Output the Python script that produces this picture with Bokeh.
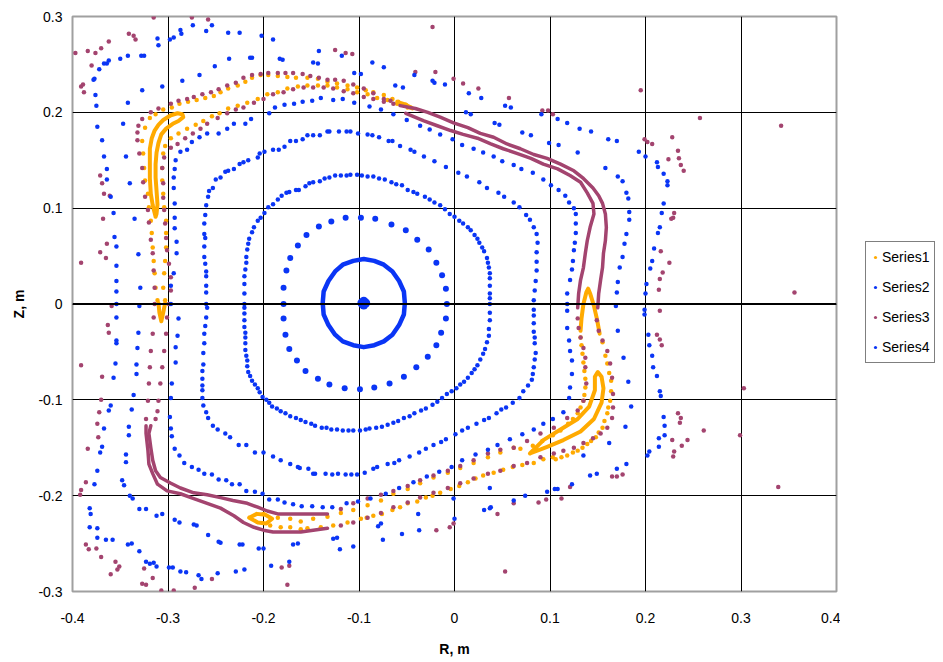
from bokeh.plotting import figure
from bokeh.layouts import row
from bokeh.models import Range1d, Legend, LegendItem, Span, FixedTicker
from bokeh.embed import file_html
from bokeh.resources import INLINE

ORANGE = "#FFAA00"
BLUE = "#0A35F5"
PURPLE = "#A3446F"

x_ticks = [-0.4, -0.3, -0.2, -0.1, 0, 0.1, 0.2, 0.3, 0.4]
y_ticks = [-0.3, -0.2, -0.1, 0, 0.1, 0.2, 0.3]
x_tick_labels = ["-0.4", "-0.3", "-0.2", "-0.1", "0", "0.1", "0.2", "0.3", "0.4"]
y_tick_labels = ["-0.3", "-0.2", "-0.1", "0", "0.1", "0.2", "0.3"]
series_names = ["Series1", "Series2", "Series3", "Series4"]

# ---------------- Series2 (inner blue surfaces) ----------------
s2_center = [(-0.097, 0.001), (-0.095, 0.003), (-0.095, -0.001), (-0.093, 0.001), (-0.096, 0.000)]
s2_ring = [(-0.052, 0.001), (-0.053, 0.013), (-0.058, 0.024), (-0.065, 0.034), (-0.074, 0.041), (-0.084, 0.045),
           (-0.095, 0.047), (-0.106, 0.045), (-0.117, 0.041), (-0.125, 0.034), (-0.132, 0.024), (-0.137, 0.013),
           (-0.138, 0.001), (-0.137, -0.011), (-0.132, -0.022), (-0.125, -0.032), (-0.117, -0.039), (-0.106, -0.043),
           (-0.095, -0.045), (-0.084, -0.043), (-0.074, -0.039), (-0.065, -0.032), (-0.058, -0.022), (-0.053, -0.011),
           (-0.052, 0.001)]
s2_curve2 = [(-0.179, 0.000), (-0.179, -0.015), (-0.177, -0.032), (-0.173, -0.047), (-0.165, -0.059), (-0.156, -0.070),
             (-0.143, -0.078), (-0.131, -0.084), (-0.115, -0.088), (-0.099, -0.089), (-0.084, -0.087), (-0.068, -0.083),
             (-0.053, -0.076), (-0.040, -0.066), (-0.028, -0.055), (-0.019, -0.043), (-0.014, -0.030), (-0.009, -0.015),
             (-0.008, 0.000), (-0.009, 0.016), (-0.013, 0.030), (-0.019, 0.043), (-0.027, 0.057), (-0.039, 0.067),
             (-0.051, 0.077), (-0.066, 0.083), (-0.083, 0.089), (-0.098, 0.090), (-0.114, 0.090), (-0.129, 0.086),
             (-0.142, 0.081), (-0.155, 0.072), (-0.164, 0.061), (-0.172, 0.048), (-0.176, 0.035), (-0.179, 0.017)]
s2_curve3 = [(-0.220, 0.000), (-0.220, 0.011), (-0.220, 0.021), (-0.220, 0.029), (-0.219, 0.036), (-0.218, 0.043),
             (-0.218, 0.049), (-0.217, 0.057), (-0.216, 0.063), (-0.215, 0.068), (-0.212, 0.075), (-0.210, 0.080),
             (-0.206, 0.087), (-0.203, 0.090), (-0.199, 0.095), (-0.195, 0.101), (-0.190, 0.104), (-0.185, 0.109),
             (-0.181, 0.113), (-0.176, 0.116), (-0.173, 0.117), (-0.166, 0.119), (-0.163, 0.119), (-0.156, 0.123),
             (-0.152, 0.126), (-0.148, 0.127), (-0.141, 0.128), (-0.136, 0.131), (-0.131, 0.132), (-0.125, 0.134),
             (-0.119, 0.134), (-0.113, 0.134), (-0.109, 0.135), (-0.102, 0.135), (-0.097, 0.134), (-0.091, 0.133),
             (-0.085, 0.133), (-0.079, 0.131), (-0.073, 0.130), (-0.066, 0.127), (-0.061, 0.125), (-0.055, 0.124),
             (-0.049, 0.119), (-0.043, 0.117), (-0.039, 0.115), (-0.031, 0.112), (-0.026, 0.109), (-0.021, 0.106),
             (-0.015, 0.103), (-0.010, 0.099), (-0.005, 0.094), (0.000, 0.091), (0.005, 0.087), (0.009, 0.084),
             (0.014, 0.080), (0.017, 0.077), (0.021, 0.072), (0.024, 0.068), (0.026, 0.064), (0.029, 0.059),
             (0.031, 0.055), (0.034, 0.048), (0.035, 0.043), (0.036, 0.038), (0.037, 0.032), (0.037, 0.027),
             (0.037, 0.019), (0.037, 0.011), (0.037, 0.006), (0.037, 0.000), (0.037, -0.009), (0.037, -0.017),
             (0.036, -0.026), (0.036, -0.033), (0.034, -0.040), (0.032, -0.047), (0.030, -0.052), (0.027, -0.058),
             (0.024, -0.064), (0.021, -0.068), (0.018, -0.072), (0.014, -0.077), (0.010, -0.081), (0.006, -0.084),
             (0.002, -0.088), (-0.003, -0.091), (-0.008, -0.094), (-0.013, -0.098), (-0.018, -0.102), (-0.023, -0.105),
             (-0.030, -0.109), (-0.035, -0.111), (-0.042, -0.114), (-0.047, -0.117), (-0.053, -0.119), (-0.059, -0.122),
             (-0.064, -0.124), (-0.070, -0.126), (-0.076, -0.128), (-0.082, -0.129), (-0.089, -0.130), (-0.093, -0.131),
             (-0.099, -0.132), (-0.106, -0.132), (-0.111, -0.132), (-0.117, -0.132), (-0.123, -0.131), (-0.129, -0.131),
             (-0.134, -0.129), (-0.139, -0.129), (-0.146, -0.127), (-0.150, -0.125), (-0.156, -0.123), (-0.161, -0.121),
             (-0.166, -0.119), (-0.172, -0.117), (-0.177, -0.114), (-0.182, -0.112), (-0.186, -0.109), (-0.191, -0.107),
             (-0.194, -0.103), (-0.197, -0.100), (-0.201, -0.097), (-0.204, -0.092), (-0.206, -0.088), (-0.209, -0.084),
             (-0.212, -0.080), (-0.214, -0.075), (-0.216, -0.071), (-0.217, -0.065), (-0.217, -0.059), (-0.218, -0.054),
             (-0.219, -0.048), (-0.219, -0.041), (-0.219, -0.035), (-0.219, -0.030), (-0.220, -0.024), (-0.220, -0.017),
             (-0.220, -0.010), (-0.220, -0.004)]
s2_curve4 = [(-0.260, 0.000), (-0.260, 0.012), (-0.260, 0.019), (-0.260, 0.029), (-0.260, 0.034), (-0.261, 0.042),
             (-0.262, 0.049), (-0.262, 0.060), (-0.261, 0.069), (-0.262, 0.073), (-0.262, 0.084), (-0.261, 0.093),
             (-0.260, 0.103), (-0.258, 0.112), (-0.257, 0.118), (-0.253, 0.121), (-0.250, 0.130), (-0.245, 0.132),
             (-0.240, 0.138), (-0.237, 0.139), (-0.231, 0.141), (-0.225, 0.146), (-0.221, 0.148), (-0.216, 0.150),
             (-0.206, 0.153), (-0.204, 0.157), (-0.199, 0.159), (-0.190, 0.161), (-0.184, 0.161), (-0.178, 0.164),
             (-0.172, 0.170), (-0.166, 0.170), (-0.159, 0.172), (-0.154, 0.176), (-0.148, 0.176), (-0.141, 0.176),
             (-0.133, 0.180), (-0.131, 0.180), (-0.121, 0.180), (-0.113, 0.180), (-0.109, 0.180), (-0.101, 0.178),
             (-0.091, 0.177), (-0.086, 0.176), (-0.079, 0.174), (-0.069, 0.170), (-0.065, 0.170), (-0.057, 0.165),
             (-0.046, 0.161), (-0.042, 0.159), (-0.032, 0.154), (-0.021, 0.149), (-0.009, 0.143), (0.004, 0.137),
             (0.013, 0.133), (0.026, 0.127), (0.034, 0.121), (0.046, 0.116), (0.052, 0.112), (0.062, 0.106),
             (0.068, 0.101), (0.075, 0.093), (0.079, 0.088), (0.083, 0.080), (0.086, 0.073), (0.087, 0.064),
             (0.086, 0.054), (0.086, 0.044), (0.086, 0.035), (0.085, 0.024), (0.084, 0.014), (0.083, 0.004),
             (0.083, -0.006), (0.083, -0.012), (0.083, -0.020), (0.083, -0.029), (0.084, -0.035), (0.084, -0.041),
             (0.085, -0.051), (0.084, -0.058), (0.083, -0.066), (0.082, -0.073), (0.081, -0.079), (0.077, -0.085),
             (0.072, -0.091), (0.068, -0.098), (0.061, -0.103), (0.054, -0.108), (0.049, -0.110), (0.044, -0.114),
             (0.036, -0.119), (0.031, -0.121), (0.023, -0.125), (0.014, -0.129), (0.008, -0.132), (0.001, -0.136),
             (-0.009, -0.141), (-0.014, -0.144), (-0.022, -0.147), (-0.030, -0.151), (-0.037, -0.155), (-0.047, -0.159),
             (-0.058, -0.163), (-0.063, -0.166), (-0.070, -0.167), (-0.081, -0.170), (-0.085, -0.172), (-0.094, -0.176),
             (-0.102, -0.178), (-0.108, -0.178), (-0.114, -0.178), (-0.122, -0.177), (-0.128, -0.178), (-0.135, -0.177),
             (-0.146, -0.177), (-0.148, -0.177), (-0.153, -0.172), (-0.162, -0.171), (-0.164, -0.170), (-0.172, -0.167),
             (-0.182, -0.163), (-0.190, -0.159), (-0.200, -0.155), (-0.209, -0.155), (-0.218, -0.147), (-0.226, -0.147),
             (-0.235, -0.139), (-0.240, -0.135), (-0.248, -0.131), (-0.253, -0.127), (-0.258, -0.119), (-0.260, -0.113),
             (-0.263, -0.106), (-0.264, -0.098), (-0.264, -0.090), (-0.264, -0.085), (-0.264, -0.078), (-0.264, -0.070),
             (-0.263, -0.063), (-0.263, -0.051), (-0.262, -0.041), (-0.262, -0.031), (-0.261, -0.023), (-0.260, -0.014),
             (-0.259, -0.004)]

# ---------------- Series4 (outer blue points) ----------------
s4_curve5 = [(-0.293, 0.079), (-0.293, 0.090), (-0.293, 0.105), (-0.294, 0.121), (-0.294, 0.132), (-0.293, 0.141),
             (-0.292, 0.150), (-0.287, 0.159), (-0.280, 0.161), (-0.275, 0.169), (-0.267, 0.174), (-0.259, 0.178),
             (-0.247, 0.178), (-0.238, 0.183), (-0.231, 0.188), (-0.219, 0.188), (-0.213, 0.193), (-0.194, 0.199),
             (-0.188, 0.205), (-0.178, 0.208), (-0.168, 0.209), (-0.159, 0.211), (-0.149, 0.212), (-0.140, 0.215),
             (-0.127, 0.213), (-0.117, 0.214), (-0.105, 0.210), (-0.089, 0.206), (-0.077, 0.203), (-0.064, 0.198),
             (-0.050, 0.192), (-0.036, 0.186), (-0.026, 0.182), (-0.015, 0.177), (-0.002, 0.172), (0.008, 0.166),
             (0.020, 0.162), (0.030, 0.158), (0.041, 0.154), (0.050, 0.149), (0.062, 0.145), (0.070, 0.141),
             (0.082, 0.137), (0.093, 0.130), (0.101, 0.124), (0.109, 0.119), (0.116, 0.113), (0.120, 0.106),
             (0.125, 0.100), (0.127, 0.094), (0.127, 0.084), (0.127, 0.074), (0.126, 0.064), (0.125, 0.056),
             (0.124, 0.045), (0.123, 0.036), (0.121, 0.025), (0.118, 0.011), (0.118, 0.000), (0.118, -0.007),
             (0.118, -0.025), (0.120, -0.038), (0.121, -0.049), (0.123, -0.059), (0.123, -0.073), (0.121, -0.087),
             (0.120, -0.098), (0.114, -0.113), (0.103, -0.120), (0.093, -0.125), (0.083, -0.131), (0.071, -0.136),
             (0.058, -0.141), (0.045, -0.147), (0.035, -0.152), (0.022, -0.157), (0.008, -0.163), (-0.003, -0.170),
             (-0.016, -0.175), (-0.029, -0.180), (-0.043, -0.186), (-0.058, -0.192), (-0.072, -0.198), (-0.088, -0.203),
             (-0.101, -0.206), (-0.113, -0.208), (-0.128, -0.212), (-0.138, -0.212), (-0.149, -0.211), (-0.160, -0.211),
             (-0.169, -0.209), (-0.178, -0.207), (-0.185, -0.204), (-0.194, -0.204), (-0.201, -0.198), (-0.209, -0.196),
             (-0.218, -0.195), (-0.225, -0.188), (-0.233, -0.188), (-0.239, -0.184), (-0.247, -0.183), (-0.254, -0.178),
             (-0.262, -0.177), (-0.268, -0.173), (-0.275, -0.170), (-0.283, -0.166), (-0.288, -0.158), (-0.293, -0.151),
             (-0.296, -0.138), (-0.297, -0.130), (-0.298, -0.118), (-0.297, -0.098), (-0.296, -0.083), (-0.292, -0.061),
             (-0.292, -0.045), (-0.290, -0.033), (-0.289, -0.015), (-0.297, 0.000), (-0.297, 0.019), (-0.294, 0.032),
             (-0.291, 0.053), (-0.291, 0.065)]
s4_outer = [(-0.311, 0.277), (-0.310, 0.270), (-0.298, 0.276), (-0.294, 0.278), (-0.287, 0.286), (-0.286, 0.282),
            (-0.274, 0.291), (-0.260, 0.285), (-0.254, 0.291), (-0.237, 0.283), (-0.225, 0.283), (-0.202, 0.280),
            (-0.190, 0.276), (-0.183, 0.256), (-0.180, 0.255), (-0.214, 0.257), (-0.212, 0.257), (-0.236, 0.256),
            (-0.251, 0.248), (-0.267, 0.239), (-0.285, 0.233), (-0.306, 0.227), (-0.327, 0.223), (-0.342, 0.210),
            (-0.347, 0.188), (-0.344, 0.154), (-0.340, 0.126), (-0.335, 0.089), (-0.331, 0.052), (-0.329, 0.017),
            (-0.330, -0.002), (-0.325, 0.259), (-0.328, 0.259), (-0.342, 0.259), (-0.350, 0.256), (-0.362, 0.254),
            (-0.364, 0.251), (-0.367, 0.251), (-0.372, 0.245), (-0.377, 0.235), (-0.378, 0.234), (-0.376, 0.218),
            (-0.375, 0.207), (-0.374, 0.185), (-0.369, 0.171), (-0.367, 0.154), (-0.364, 0.141), (-0.364, 0.130),
            (-0.360, 0.112), (-0.357, 0.095), (-0.356, 0.070), (-0.354, 0.060), (-0.354, 0.040), (-0.354, 0.024),
            (-0.354, 0.013), (-0.354, 0.000), (-0.354, -0.014), (-0.354, -0.038), (-0.354, -0.041), (-0.355, -0.062),
            (-0.357, -0.077), (-0.360, -0.106), (-0.362, -0.111), (-0.367, -0.130), (-0.369, -0.149), (-0.371, -0.155),
            (-0.374, -0.174), (-0.377, -0.188), (-0.382, -0.213), (-0.381, -0.219), (-0.382, -0.233), (-0.374, -0.234),
            (-0.374, -0.244), (-0.365, -0.246), (-0.358, -0.246), (-0.342, -0.251), (-0.338, -0.250), (-0.330, -0.258),
            (-0.323, -0.269), (-0.319, -0.271), (-0.315, -0.270), (-0.312, -0.274), (-0.299, -0.275), (-0.295, -0.275),
            (-0.287, -0.279), (-0.281, -0.280), (-0.268, -0.283), (-0.265, -0.287), (-0.248, -0.281), (-0.245, -0.249),
            (-0.229, -0.279), (-0.220, -0.277), (-0.225, -0.251), (-0.222, -0.251), (-0.205, -0.255), (-0.200, -0.255),
            (-0.192, -0.273), (-0.173, -0.269), (-0.169, -0.251), (-0.164, -0.250), (-0.331, -0.030), (-0.332, -0.046),
            (-0.333, -0.063), (-0.333, -0.073), (-0.336, -0.095), (-0.338, -0.110), (-0.341, -0.128), (-0.341, -0.137),
            (-0.344, -0.157), (-0.344, -0.165), (-0.348, -0.184), (-0.346, -0.189), (-0.340, -0.200), (-0.337, -0.203),
            (-0.330, -0.214), (-0.323, -0.214), (-0.312, -0.221), (-0.306, -0.219), (-0.293, -0.225), (-0.288, -0.228),
            (-0.273, -0.230), (-0.270, -0.231), (-0.258, -0.241), (-0.247, -0.248), (-0.142, 0.264), (-0.118, 0.259),
            (-0.148, 0.252), (-0.143, 0.251), (-0.105, 0.241), (-0.098, 0.240), (-0.086, 0.252), (-0.074, 0.247),
            (-0.062, 0.228), (-0.054, 0.226), (-0.042, 0.239), (-0.023, 0.233), (-0.021, 0.231), (-0.010, 0.229),
            (0.015, 0.220), (0.028, 0.215), (0.053, 0.207), (0.059, 0.205), (0.091, 0.198), (0.108, 0.193),
            (0.118, 0.189), (0.131, 0.183), (0.143, 0.180), (0.161, 0.172), (0.170, 0.170), (0.012, 0.200),
            (0.017, 0.198), (0.042, 0.189), (0.047, 0.187), (0.071, 0.179), (0.080, 0.176), (0.099, 0.168),
            (0.109, 0.166), (0.129, 0.158), (0.158, 0.142), (0.171, 0.133), (0.176, 0.128), (0.180, 0.116),
            (0.182, 0.110), (0.183, 0.096), (0.183, 0.088), (0.180, 0.073), (0.178, 0.063), (0.176, 0.049),
            (0.173, 0.038), (0.171, 0.023), (0.170, 0.012), (0.169, -0.002), (0.171, -0.028), (0.177, -0.056),
            (0.182, -0.081), (0.185, -0.107), (0.179, -0.128), (0.162, -0.145), (0.170, -0.172), (0.180, -0.167),
            (0.193, 0.159), (0.200, 0.154), (0.212, 0.148), (0.213, 0.143), (0.219, 0.136), (0.223, 0.128),
            (0.223, 0.124), (0.219, 0.105), (0.217, 0.095), (0.215, 0.080), (0.213, 0.074), (0.209, 0.058),
            (0.207, 0.045), (0.205, 0.037), (0.201, 0.021), (0.200, 0.011), (0.199, -0.006), (0.199, -0.011),
            (0.203, -0.032), (0.204, -0.043), (0.207, -0.054), (0.208, -0.066), (0.212, -0.075), (0.215, -0.091),
            (0.216, -0.096), (0.219, -0.118), (0.220, -0.127), (0.220, -0.137), (0.214, -0.140), (0.214, -0.149),
            (0.204, -0.154), (0.202, -0.158), (0.149, -0.177), (0.142, -0.179), (0.123, -0.188), (0.108, -0.193),
            (0.105, -0.193), (0.097, -0.196), (0.074, -0.200), (0.062, -0.205), (0.038, -0.212), (0.135, -0.158),
            (0.037, -0.192), (0.031, -0.215), (0.037, -0.213), (-0.001, -0.203), (0.000, -0.224), (-0.038, -0.219),
            (-0.037, -0.236), (-0.055, -0.240), (-0.075, -0.246), (-0.080, -0.232), (-0.077, -0.229), (-0.106, -0.253),
            (-0.120, -0.256), (-0.123, -0.244), (-0.127, -0.245)]

# ---------------- Series3 (purple) ----------------
s3_band_a_top = [(-0.057, 0.207), (-0.041, 0.204), (-0.028, 0.200), (-0.015, 0.195), (-0.001, 0.189), (0.014, 0.184),
                 (0.027, 0.178), (0.041, 0.174), (0.055, 0.167), (0.069, 0.162), (0.083, 0.156), (0.097, 0.152),
                 (0.111, 0.146), (0.125, 0.139), (0.135, 0.131), (0.145, 0.121), (0.151, 0.113), (0.155, 0.105),
                 (0.158, 0.094), (0.159, 0.080), (0.158, 0.066), (0.156, 0.053), (0.155, 0.038), (0.153, 0.025),
                 (0.151, 0.011), (0.150, -0.004)]
s3_band_b_top = [(-0.051, 0.199), (-0.032, 0.191), (-0.018, 0.186), (-0.004, 0.181), (0.009, 0.177), (0.024, 0.173),
                 (0.038, 0.167), (0.051, 0.162), (0.066, 0.157), (0.080, 0.152), (0.093, 0.146), (0.108, 0.141),
                 (0.121, 0.134), (0.132, 0.127), (0.139, 0.116), (0.145, 0.105), (0.146, 0.094), (0.142, 0.080),
                 (0.139, 0.066), (0.137, 0.053), (0.135, 0.038), (0.132, 0.025), (0.130, 0.011), (0.129, -0.004)]
s3_band_a_bottom = [(-0.133, -0.234), (-0.148, -0.236), (-0.161, -0.238), (-0.175, -0.238), (-0.190, -0.238),
                    (-0.200, -0.236), (-0.210, -0.233), (-0.221, -0.228), (-0.231, -0.221), (-0.245, -0.213),
                    (-0.259, -0.208), (-0.273, -0.203), (-0.287, -0.198), (-0.301, -0.195), (-0.311, -0.188),
                    (-0.316, -0.177), (-0.320, -0.167), (-0.321, -0.153), (-0.323, -0.135), (-0.323, -0.127)]
s3_band_b_bottom = [(-0.133, -0.219), (-0.148, -0.219), (-0.161, -0.219), (-0.175, -0.219), (-0.185, -0.219),
                    (-0.196, -0.216), (-0.206, -0.212), (-0.217, -0.208), (-0.232, -0.205), (-0.245, -0.202),
                    (-0.259, -0.199), (-0.273, -0.197), (-0.287, -0.192), (-0.297, -0.187), (-0.308, -0.181),
                    (-0.313, -0.174), (-0.316, -0.163), (-0.318, -0.150), (-0.320, -0.135), (-0.318, -0.127)]
s3_strand_a = [(0.149, -0.017), (0.151, -0.028), (0.155, -0.038), (0.160, -0.049), (0.163, -0.062), (0.165, -0.077),
               (0.166, -0.094), (0.166, -0.108), (0.165, -0.119), (0.160, -0.129), (0.153, -0.135), (0.145, -0.140),
               (0.135, -0.145), (0.125, -0.150), (0.114, -0.153), (0.104, -0.156), (0.090, -0.160), (0.076, -0.166),
               (0.062, -0.169), (0.048, -0.174), (0.035, -0.177), (0.020, -0.182), (0.006, -0.187), (-0.007, -0.192),
               (-0.022, -0.197), (-0.036, -0.202), (-0.049, -0.207), (-0.064, -0.212), (-0.077, -0.218),
               (-0.091, -0.223), (-0.106, -0.228), (-0.119, -0.231)]
s3_strand_b = [(0.129, -0.015), (0.130, -0.025), (0.132, -0.035), (0.135, -0.046), (0.137, -0.056), (0.137, -0.066),
               (0.138, -0.083), (0.135, -0.101), (0.129, -0.111), (0.118, -0.119), (0.104, -0.129), (0.090, -0.135),
               (0.076, -0.143), (0.062, -0.150), (0.048, -0.152), (0.035, -0.156), (0.020, -0.163), (0.006, -0.169),
               (-0.007, -0.174), (-0.022, -0.179), (-0.036, -0.184), (-0.049, -0.190), (-0.064, -0.195),
               (-0.077, -0.199), (-0.091, -0.203), (-0.106, -0.208), (-0.119, -0.214)]
s3_strand_outer_left = [(-0.323, -0.120), (-0.321, -0.101), (-0.320, -0.083), (-0.319, -0.066), (-0.318, -0.049),
                        (-0.316, -0.031), (-0.315, -0.014), (-0.314, 0.000), (-0.314, 0.017), (-0.315, 0.035),
                        (-0.316, 0.053), (-0.318, 0.067), (-0.320, 0.085), (-0.321, 0.098), (-0.324, 0.112),
                        (-0.326, 0.127), (-0.327, 0.142), (-0.330, 0.157), (-0.332, 0.171), (-0.332, 0.179),
                        (-0.331, 0.186), (-0.327, 0.193), (-0.318, 0.200), (-0.310, 0.204), (-0.297, 0.209),
                        (-0.289, 0.212), (-0.280, 0.214), (-0.273, 0.216), (-0.264, 0.219), (-0.255, 0.221),
                        (-0.247, 0.224), (-0.238, 0.228), (-0.229, 0.231), (-0.221, 0.236), (-0.212, 0.239),
                        (-0.203, 0.240), (-0.195, 0.241), (-0.185, 0.241), (-0.177, 0.241), (-0.169, 0.241),
                        (-0.159, 0.240), (-0.151, 0.238), (-0.142, 0.236), (-0.133, 0.234), (-0.125, 0.234),
                        (-0.116, 0.233), (-0.106, 0.229), (-0.095, 0.225), (-0.085, 0.220), (-0.074, 0.214),
                        (-0.067, 0.212)]
s3_strand_inner_left = [(-0.313, -0.120), (-0.311, -0.112), (-0.310, -0.101), (-0.308, -0.083), (-0.306, -0.066),
                        (-0.304, -0.049), (-0.302, -0.031), (-0.301, -0.014), (-0.299, 0.000), (-0.297, 0.014),
                        (-0.297, 0.028), (-0.299, 0.042), (-0.301, 0.056), (-0.302, 0.069), (-0.303, 0.084),
                        (-0.304, 0.098), (-0.305, 0.111), (-0.305, 0.126), (-0.306, 0.142), (-0.304, 0.153),
                        (-0.297, 0.163), (-0.290, 0.167), (-0.282, 0.173), (-0.274, 0.178), (-0.266, 0.183),
                        (-0.259, 0.188), (-0.248, 0.194), (-0.238, 0.199), (-0.229, 0.203), (-0.221, 0.205),
                        (-0.210, 0.210), (-0.200, 0.214), (-0.190, 0.219), (-0.179, 0.221), (-0.169, 0.224),
                        (-0.158, 0.226), (-0.148, 0.226), (-0.137, 0.226), (-0.127, 0.225), (-0.116, 0.222),
                        (-0.106, 0.220), (-0.095, 0.216), (-0.085, 0.214), (-0.074, 0.211), (-0.064, 0.209)]
s3_outer = [(-0.397, 0.262), (-0.384, 0.264), (-0.376, 0.262), (-0.370, 0.267), (-0.362, 0.274), (-0.341, 0.282),
            (-0.336, 0.280), (-0.334, 0.276), (-0.380, 0.249), (-0.391, 0.227), (-0.389, 0.229), (-0.388, 0.221),
            (-0.315, 0.299), (-0.275, 0.299), (-0.258, 0.297), (-0.371, 0.134), (-0.369, 0.126), (-0.367, 0.115),
            (-0.361, 0.113), (-0.368, 0.089), (-0.371, 0.054), (-0.364, 0.063), (-0.365, 0.048), (-0.391, 0.043),
            (-0.359, -0.002), (-0.363, -0.022), (-0.362, -0.030), (-0.391, -0.064), (-0.369, -0.076), (-0.370, -0.100),
            (-0.372, -0.113), (-0.374, -0.125), (-0.373, -0.139), (-0.384, -0.151), (-0.386, -0.186), (-0.391, -0.194),
            (-0.392, -0.199), (-0.386, -0.251), (-0.383, -0.256), (-0.375, -0.255), (-0.370, -0.264), (-0.355, -0.269),
            (-0.351, -0.274), (-0.360, -0.282), (-0.353, -0.277), (-0.325, -0.276), (-0.327, -0.292), (-0.323, -0.293),
            (-0.316, -0.286), (-0.307, -0.299), (-0.294, -0.299), (-0.272, -0.296), (-0.254, -0.287), (-0.181, -0.275),
            (-0.173, -0.273), (-0.175, -0.293), (0.053, -0.279), (-0.019, -0.236), (-0.005, -0.233), (-0.001, -0.229),
            (0.045, -0.219), (0.062, -0.208), (0.088, -0.207), (0.096, -0.204), (0.112, -0.203), (0.121, -0.191),
            (0.165, -0.180), (0.170, -0.180), (0.176, -0.178), (0.215, -0.007), (0.212, -0.032), (0.215, -0.037),
            (0.217, -0.043), (0.234, -0.114), (0.237, -0.119), (0.236, -0.124), (0.228, -0.142), (0.230, -0.154),
            (0.229, -0.159), (0.238, -0.148), (0.244, -0.142), (0.261, -0.132), (0.299, -0.137), (0.303, -0.088),
            (0.339, -0.191), (0.195, 0.223), (0.257, 0.194), (0.342, 0.186), (0.228, 0.174), (0.199, 0.172),
            (0.202, 0.169), (0.207, 0.167), (0.234, 0.160), (0.235, 0.152), (0.224, 0.151), (0.237, 0.145),
            (0.240, 0.139), (0.230, 0.095), (0.229, 0.090), (0.227, 0.089), (0.216, 0.055), (0.225, 0.043),
            (0.218, 0.033), (0.215, 0.026), (0.214, 0.015), (0.356, 0.012), (-0.023, 0.289), (-0.125, 0.265),
            (-0.114, 0.262), (-0.107, 0.261), (-0.041, 0.242), (-0.020, 0.242), (-0.001, 0.235), (0.009, 0.230),
            (0.025, 0.225), (0.057, 0.215), (0.092, 0.202), (0.098, 0.202), (0.103, 0.198)]

# ---------------- Series1 (orange island chain) ----------------
s1_island_top_left = [(-0.313, 0.091), (-0.316, 0.103), (-0.318, 0.115), (-0.319, 0.131), (-0.319, 0.150),
                      (-0.319, 0.162), (-0.317, 0.173), (-0.314, 0.181), (-0.310, 0.187), (-0.305, 0.192),
                      (-0.297, 0.197), (-0.290, 0.199), (-0.285, 0.198), (-0.284, 0.195), (-0.289, 0.191),
                      (-0.295, 0.188), (-0.302, 0.183), (-0.307, 0.177), (-0.310, 0.168), (-0.312, 0.158),
                      (-0.313, 0.146), (-0.313, 0.132), (-0.312, 0.118), (-0.311, 0.104), (-0.312, 0.094),
                      (-0.313, 0.091)]
s1_island_right = [(0.079, -0.156), (0.097, -0.149), (0.114, -0.142), (0.132, -0.133), (0.146, -0.120),
                   (0.154, -0.103), (0.156, -0.088), (0.154, -0.076), (0.150, -0.071), (0.147, -0.076),
                   (0.147, -0.090), (0.141, -0.107), (0.129, -0.120), (0.111, -0.131), (0.093, -0.142),
                   (0.079, -0.156)]
s1_island_bottom = [(-0.215, -0.223), (-0.207, -0.219), (-0.198, -0.220), (-0.191, -0.224), (-0.197, -0.229),
                    (-0.206, -0.228), (-0.215, -0.223)]
s1_tip_right = [(0.132, -0.028), (0.133, -0.015), (0.135, 0.000), (0.138, 0.012), (0.140, 0.016), (0.142, 0.011),
                (0.146, -0.002), (0.149, -0.015), (0.152, -0.031)]
s1_tip_left = [(-0.310, 0.001), (-0.309, -0.009), (-0.307, -0.018), (-0.305, -0.009), (-0.303, 0.001)]
s1_tip_top = [(-0.060, 0.211), (-0.051, 0.208), (-0.044, 0.204)]
s1_top_outer = [(-0.327, 0.170), (-0.324, 0.184), (-0.319, 0.194), (-0.313, 0.198), (-0.305, 0.203), (-0.296, 0.205),
                (-0.288, 0.209), (-0.279, 0.211), (-0.270, 0.213), (-0.261, 0.215), (-0.252, 0.217), (-0.245, 0.221),
                (-0.237, 0.225), (-0.227, 0.228), (-0.219, 0.232), (-0.212, 0.236), (-0.203, 0.239), (-0.195, 0.239),
                (-0.185, 0.238), (-0.175, 0.237), (-0.166, 0.236), (-0.154, 0.236), (-0.143, 0.235), (-0.133, 0.232),
                (-0.123, 0.230), (-0.112, 0.228), (-0.102, 0.226), (-0.093, 0.223), (-0.085, 0.221), (-0.074, 0.218),
                (-0.065, 0.214), (-0.059, 0.211), (-0.051, 0.208), (-0.046, 0.205)]
s1_top_inner = [(-0.305, 0.157), (-0.303, 0.165), (-0.297, 0.173), (-0.289, 0.178), (-0.280, 0.183), (-0.271, 0.187),
                (-0.263, 0.191), (-0.254, 0.196), (-0.246, 0.199), (-0.237, 0.204), (-0.227, 0.207), (-0.217, 0.210),
                (-0.206, 0.214), (-0.196, 0.219), (-0.185, 0.221), (-0.175, 0.225), (-0.164, 0.227), (-0.154, 0.228),
                (-0.143, 0.228), (-0.133, 0.228), (-0.123, 0.226), (-0.112, 0.224), (-0.102, 0.221), (-0.091, 0.219),
                (-0.081, 0.215), (-0.070, 0.213), (-0.060, 0.209), (-0.049, 0.205)]
s1_left_outer = [(-0.326, 0.157), (-0.325, 0.142), (-0.324, 0.129), (-0.321, 0.115), (-0.320, 0.101), (-0.318, 0.087),
                 (-0.317, 0.074), (-0.316, 0.059), (-0.315, 0.045), (-0.314, 0.032), (-0.313, 0.017), (-0.311, 0.004)]
s1_left_inner = [(-0.306, 0.142), (-0.306, 0.129), (-0.305, 0.115), (-0.304, 0.101), (-0.302, 0.087), (-0.302, 0.074),
                 (-0.302, 0.059), (-0.303, 0.045), (-0.304, 0.032), (-0.305, 0.017), (-0.303, 0.004)]
s1_right_upper = [(0.132, -0.035), (0.133, -0.043), (0.134, -0.052), (0.135, -0.061), (0.136, -0.070), (0.137, -0.078),
                  (0.137, -0.087), (0.136, -0.095), (0.135, -0.101), (0.132, -0.108), (0.129, -0.114), (0.124, -0.120),
                  (0.119, -0.125), (0.111, -0.132), (0.103, -0.137), (0.092, -0.143), (0.082, -0.148), (0.069, -0.151),
                  (0.062, -0.150), (0.048, -0.155), (0.035, -0.160), (0.020, -0.166), (0.006, -0.171), (-0.007, -0.176),
                  (-0.022, -0.181), (-0.036, -0.187), (-0.049, -0.193), (-0.064, -0.198), (-0.077, -0.205),
                  (-0.091, -0.210), (-0.106, -0.215), (-0.119, -0.218), (-0.133, -0.222), (-0.148, -0.224),
                  (-0.161, -0.227), (-0.172, -0.224), (-0.185, -0.223), (-0.200, -0.219)]
s1_right_lower = [(0.155, -0.040), (0.158, -0.054), (0.160, -0.062), (0.162, -0.072), (0.164, -0.080), (0.164, -0.091),
                  (0.163, -0.101), (0.161, -0.108), (0.160, -0.114), (0.157, -0.122), (0.155, -0.129), (0.151, -0.134),
                  (0.148, -0.139), (0.143, -0.143), (0.139, -0.146), (0.134, -0.150), (0.129, -0.153), (0.124, -0.155),
                  (0.118, -0.158), (0.112, -0.160), (0.106, -0.162), (0.103, -0.160), (0.093, -0.162), (0.083, -0.166),
                  (0.071, -0.168), (0.061, -0.170), (0.051, -0.173), (0.041, -0.176), (0.030, -0.179), (0.022, -0.182),
                  (0.014, -0.186), (0.005, -0.190), (-0.004, -0.193), (-0.015, -0.197), (-0.023, -0.200),
                  (-0.030, -0.202), (-0.039, -0.206), (-0.049, -0.208), (-0.057, -0.212), (-0.065, -0.215),
                  (-0.076, -0.219), (-0.085, -0.221), (-0.092, -0.223), (-0.098, -0.224), (-0.112, -0.228),
                  (-0.127, -0.231), (-0.140, -0.233), (-0.154, -0.234), (-0.161, -0.235), (-0.172, -0.233),
                  (-0.182, -0.233), (-0.193, -0.231)]


def xs(pts):
    return [q[0] for q in pts]


def ys(pts):
    return [q[1] for q in pts]


p = figure(frame_width=764, frame_height=575, min_border_left=72, min_border_right=4,
           min_border_top=16, min_border_bottom=69,
           x_range=Range1d(-0.4, 0.4), y_range=Range1d(-0.3, 0.3),
           output_backend="svg", toolbar_location=None,
           background_fill_color="white", border_fill_color="white")

FONT = "Liberation Sans"
p.xaxis.ticker = FixedTicker(ticks=x_ticks)
p.yaxis.ticker = FixedTicker(ticks=y_ticks)
p.xaxis.major_label_overrides = {t: s for t, s in zip(x_ticks, x_tick_labels)}
p.yaxis.major_label_overrides = {t: s for t, s in zip(y_ticks, y_tick_labels)}
for ax in (p.xaxis, p.yaxis):
    ax.axis_line_color = None
    ax.major_tick_line_color = None
    ax.minor_tick_line_color = None
    ax.major_tick_out = 0
    ax.major_tick_in = 0
    ax.minor_tick_out = 0
    ax.major_label_text_font = FONT
    ax.major_label_text_font_size = "14px"
    ax.major_label_text_color = "black"
    ax.axis_label_text_font = FONT
    ax.axis_label_text_font_size = "14px"
    ax.axis_label_text_font_style = "bold"
    ax.axis_label_text_color = "black"
p.xaxis.axis_label = "R, m"
p.yaxis.axis_label = "Z, m"
p.xaxis.major_label_standoff = 21
p.xaxis.axis_label_standoff = 15
p.yaxis.major_label_standoff = 10
p.yaxis.axis_label_standoff = 8

p.xgrid.ticker = FixedTicker(ticks=x_ticks[1:-1])
p.ygrid.ticker = FixedTicker(ticks=y_ticks[1:-1])
p.grid.grid_line_color = "black"
p.grid.grid_line_width = 1
p.outline_line_color = "#A0A0A0"
p.outline_line_width = 2
p.add_layout(Span(location=0, dimension="width", line_color="black", line_width=2))

DOT = 4.5

# Series1 (orange)
for pts in (s1_island_top_left, s1_island_right, s1_island_bottom, s1_tip_right, s1_tip_left, s1_tip_top):
    p.line(xs(pts), ys(pts), line_color=ORANGE, line_width=4, line_cap="round", line_join="round")
s1_all = s1_top_outer + s1_top_inner + s1_left_outer + s1_left_inner + s1_right_upper + s1_right_lower
p.scatter(xs(s1_all), ys(s1_all), size=DOT, color=ORANGE, line_color=None)

# Series2 (inner blue)
p.line(xs(s2_ring), ys(s2_ring), line_color=BLUE, line_width=4.5, line_cap="round", line_join="round")
p.scatter(xs(s2_center), ys(s2_center), size=9, color=BLUE, line_color=None)
p.scatter(xs(s2_curve2), ys(s2_curve2), size=6, color=BLUE, line_color=None)
s2_all = s2_curve3 + s2_curve4
p.scatter(xs(s2_all), ys(s2_all), size=DOT, color=BLUE, line_color=None)

# Series3 (purple)
for pts in (s3_band_a_top, s3_band_b_top, s3_band_a_bottom, s3_band_b_bottom):
    p.line(xs(pts), ys(pts), line_color=PURPLE, line_width=3.5, line_cap="round", line_join="round")
s3_all = s3_strand_a + s3_strand_b + s3_strand_outer_left + s3_strand_inner_left + s3_outer
p.scatter(xs(s3_all), ys(s3_all), size=DOT, color=PURPLE, line_color=None)

# Series4 (outer blue)
s4_all = s4_curve5 + s4_outer
p.scatter(xs(s4_all), ys(s4_all), size=DOT, color=BLUE, line_color=None)

# Legend panel to the right of the plot; its renderers carry the same series
# data but its view window lies away from the data, so only the key shows.
q = figure(width=100, height=660, min_border=0, x_axis_type=None, y_axis_type=None,
           x_range=Range1d(10, 11), y_range=Range1d(10, 11),
           output_backend="svg", toolbar_location=None,
           background_fill_color="white", border_fill_color="white", outline_line_color=None)
legend_renderers = [q.scatter(xs(d), ys(d), size=DOT, color=c, line_color=None)
                    for d, c in ((s1_all, ORANGE), (s2_all, BLUE), (s3_all, PURPLE), (s4_all, BLUE))]
legend = Legend(items=[LegendItem(label=n, renderers=[r]) for n, r in zip(series_names, legend_renderers)],
                location=(25, 228))
legend.border_line_color = "black"
legend.border_line_width = 1
legend.padding = 5
legend.spacing = 10
legend.margin = 0
legend.glyph_height = 20
legend.glyph_width = 8
legend.label_height = 20
legend.label_standoff = 3
legend.label_text_font = FONT
legend.label_text_font_size = "14px"
legend.label_text_color = "black"
legend.background_fill_alpha = 1
q.add_layout(legend, "center")

layout = row(p, q)
open("out.html", "w").write(file_html(layout, INLINE))
